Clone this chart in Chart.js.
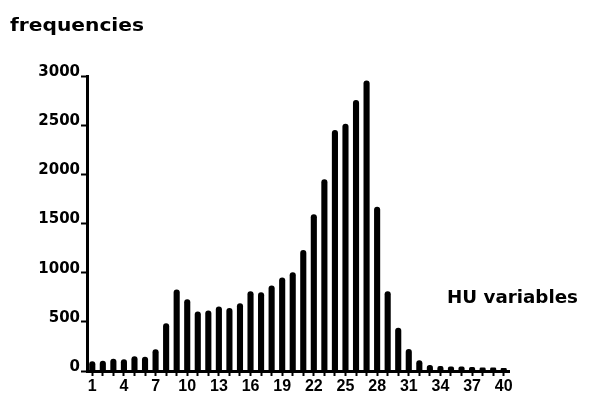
<!DOCTYPE html>
<html>
<head>
<meta charset="utf-8">
<script src="https://cdn.jsdelivr.net/npm/chart.js@4/dist/chart.umd.min.js"></script>
<style>
  body { margin: 0; background: #fff; }
  #wrap { width: 591px; height: 400px; position: relative; }
</style>
</head>
<body>
<div id="wrap"><canvas id="myChart"></canvas></div>
<script>
// HU variable classes 1..40
const categorias = Array.from({ length: 40 }, (_, i) => String(i + 1));
const frecuencias = [
    100, 105, 125, 120, 150, 145, 220, 485, 830, 730,
    605, 615, 655, 640, 690, 810, 800, 870, 950, 1005,
    1230, 1595, 1950, 2450, 2515, 2755, 2955, 1670, 810, 440,
    225, 110, 60, 50, 45, 45, 40, 35, 35, 30
];
const yTicks = [0, 500, 1000, 1500, 2000, 2500, 3000];
const tituloY = 'frequencies';
const tituloX = 'HU variables';

// titles drawn on top, stretched a bit like the scanned original
const textos = {
    id: 'textos',
    afterDraw(chart) {
        const ctx = chart.ctx;
        function texto(str, x, y, ancho) {
            ctx.save();
            ctx.font = 'bold 17px "DejaVu Sans"';
            ctx.fillStyle = '#000';
            ctx.textBaseline = 'alphabetic';
            const w = ctx.measureText(str).width;
            ctx.translate(x, y);
            ctx.scale(ancho / w, 1);
            ctx.fillText(str, 0, 0);
            ctx.restore();
        }
        texto(tituloY, 10, 31, 134);
        texto(tituloX, 447, 303, 131);
    }
};

const ctx = document.getElementById('myChart');
const myChart = new Chart(ctx, {
    type: 'bar',
    data: {
        labels: categorias,
        datasets: [{
            data: frecuencias,
            backgroundColor: '#000',
            borderWidth: 0,
            borderRadius: { topLeft: 3, topRight: 3 },
            borderSkipped: 'bottom',
            barPercentage: 0.58,
            categoryPercentage: 1.0
        }]
    },
    options: {
        responsive: true,
        maintainAspectRatio: false,
        animation: false,
        layout: { padding: { top: 76, right: 82, left: 0, bottom: 0 } },
        plugins: {
            legend: { display: false },
            tooltip: { enabled: false }
        },
        scales: {
            x: {
                offset: true,
                afterFit(scale) { scale.height = 29; },
                border: { display: true, color: '#000', width: 3 },
                grid: {
                    offset: false,
                    drawOnChartArea: false,
                    drawTicks: true,
                    tickLength: 5,
                    tickWidth: 2,
                    tickColor: '#000'
                },
                ticks: {
                    autoSkip: false,
                    maxRotation: 0,
                    padding: 1,
                    color: '#000',
                    font: { family: '"Liberation Sans"', weight: 'bold', size: 16 },
                    callback: function (val, index) {
                        return index % 3 === 0 ? this.getLabelForValue(val) : '';
                    }
                }
            },
            y: {
                min: 0,
                max: 3000,
                afterFit(scale) { scale.width = 87; },
                afterBuildTicks(scale) {
                    scale.ticks = yTicks.map(v => ({ value: v }));
                },
                border: { display: true, color: '#000', width: 3 },
                grid: {
                    drawOnChartArea: false,
                    drawTicks: true,
                    tickLength: 6,
                    tickWidth: 2,
                    tickColor: '#000'
                },
                ticks: {
                    padding: 1,
                    labelOffset: -4,
                    color: '#000',
                    font: { family: '"DejaVu Sans"', weight: 'bold', size: 15 },
                    callback: function (val) { return String(val); }
                }
            }
        }
    },
    plugins: [textos]
});
</script>
</body>
</html>
